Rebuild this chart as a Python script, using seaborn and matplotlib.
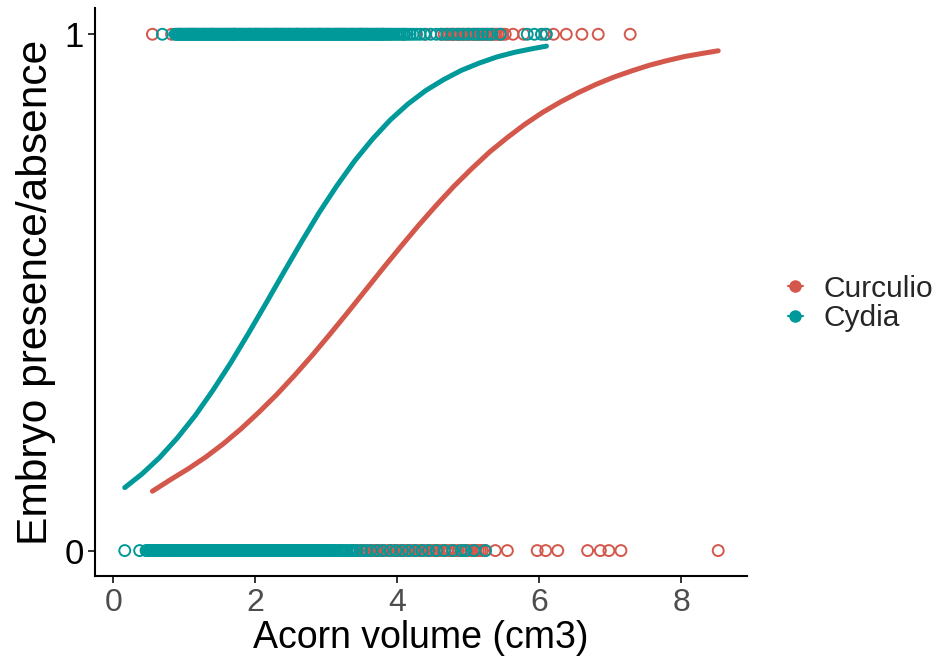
import matplotlib
matplotlib.use("Agg")
import matplotlib.pyplot as plt
from matplotlib import font_manager
from matplotlib.lines import Line2D
import seaborn as sns
import pandas as pd

# acorn volume (cm3) of each acorn, split by species and embryo presence (1) / absence (0)
curculio_present = [0.55, 0.82, 1.1, 1.4, 1.7, 2.0, 2.3, 2.6, 2.9, 3.2, 3.5, 3.8, 4.1, 4.4,
                    4.62, 4.66, 4.7, 4.73, 4.76, 4.79, 4.82, 4.85, 4.88, 4.91, 4.94, 4.97,
                    5.0, 5.03, 5.06, 5.09, 5.12, 5.15, 5.18, 5.21, 5.24, 5.27, 5.3, 5.33,
                    5.36, 5.39, 5.42, 5.45, 5.48, 5.52, 5.63, 5.78, 6.08, 6.2, 6.38, 6.6,
                    6.83, 7.28]
curculio_absent = [0.6, 0.9, 1.2, 1.5, 1.8, 2.1, 2.4, 2.7, 3.0, 3.2, 3.37, 3.4, 3.44, 3.48,
                   3.52, 3.55, 3.58, 3.62, 3.66, 3.69, 3.72, 3.75, 3.78, 3.82, 3.86, 3.9,
                   3.93, 3.96, 4.0, 4.03, 4.06, 4.1, 4.14, 4.17, 4.2, 4.24, 4.28, 4.32, 4.35,
                   4.38, 4.42, 4.45, 4.49, 4.52, 4.55, 4.58, 4.62, 4.66, 4.7, 4.74, 4.78,
                   4.82, 4.86, 4.9, 4.93, 4.96, 5.0, 5.04, 5.08, 5.11, 5.14, 5.17, 5.2, 5.24,
                   5.38, 5.55, 5.97, 6.09, 6.26, 6.68, 6.86, 6.98, 7.15, 8.52]
cydia_present = [0.69, 0.87, 0.89, 0.91, 0.93, 0.94, 0.96, 0.98, 1.0, 1.02, 1.04, 1.05, 1.07,
                 1.09, 1.11, 1.13, 1.15, 1.16, 1.18, 1.2, 1.22, 1.24, 1.26, 1.27, 1.29, 1.31,
                 1.33, 1.35, 1.37, 1.38, 1.4, 1.42, 1.44, 1.46, 1.48, 1.49, 1.51, 1.53, 1.55,
                 1.57, 1.59, 1.6, 1.62, 1.64, 1.66, 1.68, 1.7, 1.71, 1.73, 1.75, 1.77, 1.79,
                 1.81, 1.82, 1.84, 1.86, 1.88, 1.9, 1.92, 1.93, 1.95, 1.97, 1.99, 2.01, 2.03,
                 2.04, 2.06, 2.08, 2.1, 2.12, 2.14, 2.15, 2.17, 2.19, 2.21, 2.23, 2.25, 2.26,
                 2.28, 2.3, 2.32, 2.34, 2.36, 2.37, 2.39, 2.41, 2.43, 2.45, 2.47, 2.48, 2.5,
                 2.52, 2.54, 2.56, 2.58, 2.59, 2.61, 2.63, 2.65, 2.67, 2.69, 2.7, 2.72, 2.74,
                 2.76, 2.78, 2.8, 2.81, 2.83, 2.85, 2.87, 2.89, 2.91, 2.92, 2.94, 2.96, 2.98,
                 3.0, 3.02, 3.03, 3.05, 3.07, 3.09, 3.11, 3.13, 3.14, 3.16, 3.18, 3.2, 3.22,
                 3.24, 3.25, 3.27, 3.29, 3.31, 3.33, 3.35, 3.36, 3.38, 3.4, 3.42, 3.44, 3.46,
                 3.47, 3.49, 3.51, 3.53, 3.55, 3.57, 3.58, 3.6, 3.62, 3.64, 3.66, 3.68, 3.7,
                 3.72, 3.74, 3.76, 3.78, 3.8, 3.82, 3.85, 3.87, 3.9, 3.92, 3.95, 3.98, 4.01,
                 4.04, 4.07, 4.1, 4.14, 4.18, 4.22, 4.27, 4.32, 4.38, 4.47, 4.55, 4.62, 4.7,
                 4.78, 4.86, 4.93, 5.0, 5.08, 5.14, 5.2, 5.27, 5.33, 5.45, 5.83, 5.93, 6.03,
                 6.1]
cydia_absent = [0.16, 0.37, 0.46, 0.48, 0.5, 0.52, 0.53, 0.55, 0.57, 0.59, 0.61, 0.63, 0.64,
                0.66, 0.68, 0.7, 0.72, 0.74, 0.75, 0.77, 0.79, 0.81, 0.83, 0.85, 0.86, 0.88,
                0.9, 0.92, 0.94, 0.96, 0.97, 0.99, 1.01, 1.03, 1.05, 1.07, 1.08, 1.1, 1.12,
                1.14, 1.16, 1.18, 1.19, 1.21, 1.23, 1.25, 1.27, 1.29, 1.3, 1.32, 1.34, 1.36,
                1.38, 1.4, 1.41, 1.43, 1.45, 1.47, 1.49, 1.51, 1.52, 1.54, 1.56, 1.58, 1.6,
                1.62, 1.63, 1.65, 1.67, 1.69, 1.71, 1.73, 1.74, 1.76, 1.78, 1.8, 1.82, 1.84,
                1.85, 1.87, 1.89, 1.91, 1.93, 1.95, 1.96, 1.98, 2.0, 2.02, 2.04, 2.06, 2.07,
                2.09, 2.11, 2.13, 2.15, 2.17, 2.18, 2.2, 2.22, 2.24, 2.26, 2.28, 2.29, 2.31,
                2.33, 2.35, 2.37, 2.39, 2.4, 2.42, 2.44, 2.46, 2.48, 2.5, 2.51, 2.53, 2.55,
                2.57, 2.59, 2.61, 2.62, 2.64, 2.66, 2.68, 2.7, 2.72, 2.73, 2.75, 2.77, 2.79,
                2.81, 2.83, 2.84, 2.86, 2.88, 2.9, 2.92, 2.94, 2.96, 2.98, 3.0, 3.02, 3.04,
                3.07, 3.09, 3.12, 3.14, 3.17, 3.2, 3.23, 3.26, 3.29, 3.32, 3.35, 3.38, 3.43,
                3.5, 3.56, 3.63, 3.72, 3.8, 3.9, 3.98, 4.07, 4.16, 4.25, 4.35, 4.44, 4.55,
                4.66, 4.78, 4.9, 4.96, 5.08, 5.24]

# fitted logistic curves
curculio_fit_x = [0.55, 0.8, 1.05, 1.3, 1.55, 1.8, 2.05, 2.3, 2.55, 2.8, 3.05, 3.3, 3.55, 3.8,
                  4.05, 4.3, 4.55, 4.8, 5.05, 5.3, 5.55, 5.8, 6.05, 6.3, 6.55, 6.8, 7.05, 7.3,
                  7.55, 7.8, 8.05, 8.3, 8.52]
curculio_fit_y = [0.115, 0.137, 0.158, 0.181, 0.207, 0.236, 0.268, 0.302, 0.339, 0.378, 0.419,
                  0.461, 0.504, 0.547, 0.589, 0.630, 0.669, 0.706, 0.740, 0.772, 0.800, 0.826,
                  0.849, 0.869, 0.887, 0.903, 0.917, 0.929, 0.940, 0.949, 0.957, 0.963, 0.968]
cydia_fit_x = [0.16, 0.4, 0.65, 0.9, 1.15, 1.4, 1.65, 1.9, 2.15, 2.4, 2.65, 2.9, 3.15, 3.4,
               3.65, 3.9, 4.15, 4.4, 4.65, 4.9, 5.15, 5.4, 5.65, 5.9, 6.1]
cydia_fit_y = [0.122, 0.148, 0.180, 0.218, 0.261, 0.310, 0.363, 0.420, 0.479, 0.539, 0.598,
               0.655, 0.707, 0.755, 0.797, 0.834, 0.865, 0.891, 0.912, 0.930, 0.944, 0.956,
               0.965, 0.972, 0.977]

species = ["Curculio", "Cydia"]
colors = {"Curculio": "#D3574A", "Cydia": "#00999A"}

rows = []
for sp, pres, absn in [("Curculio", curculio_present, curculio_absent),
                       ("Cydia", cydia_present, cydia_absent)]:
    rows += [(sp, v, 1) for v in pres]
    rows += [(sp, v, 0) for v in absn]
df = pd.DataFrame(rows, columns=["species", "volume", "embryo"])

fits = {"Curculio": (curculio_fit_x, curculio_fit_y),
        "Cydia": (cydia_fit_x, cydia_fit_y)}

sns.set_theme(style="white")
plt.rcParams["font.family"] = ["Liberation Sans", "DejaVu Sans"]

# the x axis text in the original uses a condensed face
installed = {f.name for f in font_manager.fontManager.ttflist}
if "Liberation Sans Narrow" in installed:
    xfont, xlab_size, xtick_size = ["Liberation Sans Narrow", "Liberation Sans"], 32, 26
else:
    xfont, xlab_size, xtick_size = ["Liberation Sans", "DejaVu Sans"], 27, 23

fig = plt.figure(figsize=(9.4, 6.61), dpi=100)
ax = fig.add_axes([0.101, 0.128, 0.694, 0.860])

for sp in species:
    sub = df[df.species == sp]
    n_before = len(ax.collections)
    sns.scatterplot(data=sub, x="volume", y="embryo", ax=ax, s=62, marker="o",
                    linewidth=1.4, legend=False)
    for coll in ax.collections[n_before:]:
        coll.set_facecolor("none")
        coll.set_edgecolor(colors[sp])

for sp in species:
    fx, fy = fits[sp]
    sns.lineplot(x=fx, y=fy, ax=ax, color=colors[sp], lw=3.6, sort=False)

ax.set_xlim(-0.26, 8.93)
ax.set_ylim(-0.05, 1.051)
ax.set_xticks([0, 2, 4, 6, 8])
ax.set_yticks([0, 1])
ax.tick_params(axis="x", colors="#333333", length=5, width=1.4, bottom=True, pad=3)
ax.tick_params(axis="y", colors="#333333", length=5, width=1.4, left=True, pad=3)
for lab in ax.get_xticklabels():
    lab.set_color("#4D4D4D")
    lab.set_family(xfont)
    lab.set_fontsize(xtick_size)
for lab in ax.get_yticklabels():
    lab.set_color("black")
    lab.set_fontsize(25)
ax.set_xlabel("Acorn volume (cm3)", fontsize=xlab_size, family=xfont, color="black",
              labelpad=2)
ax.set_ylabel("Embryo presence/absence", fontsize=30.6, color="black", labelpad=6)

for side in ["top", "right"]:
    ax.spines[side].set_visible(False)
for side in ["left", "bottom"]:
    ax.spines[side].set_color("black")
    ax.spines[side].set_linewidth(1.5)

handles = [Line2D([0], [0], color=colors[sp], marker="o", markersize=8, lw=1.5)
           for sp in species]
fig.legend(handles, species, loc="center left", bbox_to_anchor=(0.838, 0.541),
           frameon=False, fontsize=21.5, handlelength=0.5, handletextpad=0.7,
           labelspacing=0.05, borderaxespad=0, borderpad=0)

fig.savefig("out.png", dpi=100)
plt.close(fig)
